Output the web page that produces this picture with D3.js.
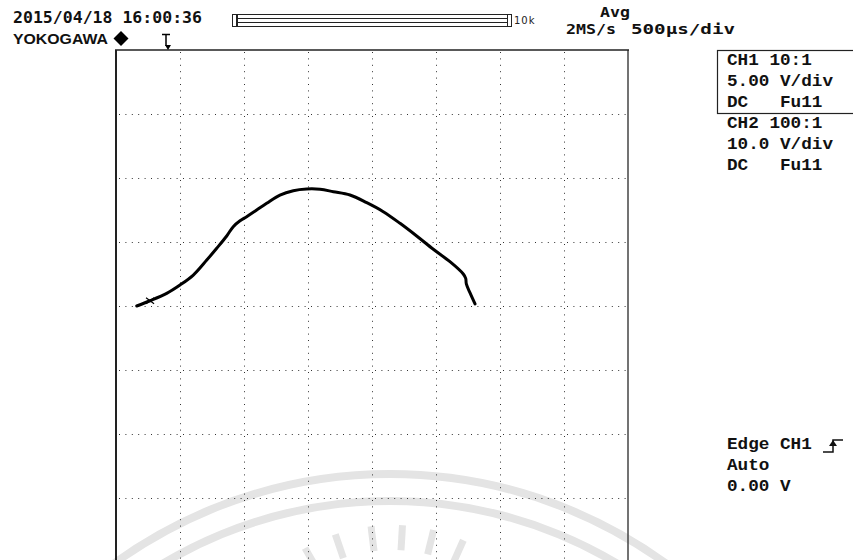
<!DOCTYPE html>
<html><head><meta charset="utf-8">
<script src="https://cdn.jsdelivr.net/npm/d3@7"></script>
<style>html,body{margin:0;padding:0;background:#fff;}svg{display:block;}text{white-space:pre;}</style>
</head><body>
<svg id="c" width="853" height="560"></svg>
<script>
// ---- data ----
const timeUs   = [-1838,-1734,-1604,-1500,-1396,-1291,-1213,-1135,-1084,-1031,-979,-901,-823,-719,-615,-510,-406,-302,-172,-41,88,219,349,479,609,713,732,737,766,805];
const ch1Volts = [0.0,0.41,0.99,1.64,2.42,3.59,4.51,5.47,6.20,6.66,6.98,7.5,8.02,8.67,9.01,9.14,9.12,8.93,8.67,8.07,7.37,6.46,5.47,4.43,3.46,2.5,2.16,1.72,1.02,0.16];
const timeGrid = [-1500,-1000,-500,0,500,1000,1500];
const voltGrid = [15,10,5,0,-5,-10,-15];
const headerDate = "2015/04/18 16:00:36";
const brand = "YOKOGAWA";
const memLabel = "10k";
const acqMode = "Avg";
const sampleRate = "2MS/s";
const timebase = "500µs/div";
const ch1Info = ["CH1 10:1","5.00 V/div","DC   Fu11"];
const ch2Info = ["CH2 100:1","10.0 V/div","DC   Fu11"];
const trigInfo = ["Edge CH1","Auto","0.00 V"];

const svg = d3.select("#c");
const x = d3.scaleLinear().domain([-2000,2000]).range([116,628]);
const y = d3.scaleLinear().domain([-20,20]).range([562,50]);

// watermark (faint logo arcs)
const wm = svg.append("g").attr("fill","none").attr("stroke","#e4e4e4");
const wcx = 390, wcy = 944;
[470, 443].forEach(r => {
  wm.append("path").attr("stroke-width",8)
    .attr("d", d3.arc()({innerRadius:r, outerRadius:r, startAngle:-Math.PI*0.24, endAngle:Math.PI*0.24}))
    .attr("transform",`translate(${wcx},${wcy})`);
});
const rayC = [392, 700];
[-0.52,-0.33,-0.12,0.06,0.24,0.42].forEach(a => {
  const r1 = 150, r2 = 175;
  wm.append("line").attr("stroke-width",7)
    .attr("x1", rayC[0]+Math.sin(a)*r1).attr("y1", rayC[1]-Math.cos(a)*r1)
    .attr("x2", rayC[0]+Math.sin(a)*r2).attr("y2", rayC[1]-Math.cos(a)*r2);
});

// grid
const g = svg.append("g");
g.selectAll("line.v").data(timeGrid).join("line")
  .attr("x1",d=>x(d)+0.5).attr("x2",d=>x(d)+0.5).attr("y1",y(20)+2).attr("y2",560)
  .attr("stroke","#333").attr("stroke-width",1).attr("stroke-dasharray","1,5.4");
g.selectAll("line.h").data(voltGrid).join("line")
  .attr("y1",d=>y(d)+0.5).attr("y2",d=>y(d)+0.5).attr("x1",x(-2000)+3).attr("x2",x(2000)-2)
  .attr("stroke","#333").attr("stroke-width",1).attr("stroke-dasharray","1,5.4");
// borders
g.append("line").attr("x1",x(-2000)).attr("x2",x(-2000)).attr("y1",y(20)).attr("y2",560).attr("stroke","#222").attr("stroke-width",2);
g.append("line").attr("x1",x(2000)).attr("x2",x(2000)).attr("y1",y(20)).attr("y2",560).attr("stroke","#444").attr("stroke-width",1.5);
g.append("line").attr("x1",x(-2000)-1).attr("x2",x(2000)+1).attr("y1",y(20)).attr("y2",y(20)).attr("stroke","#222").attr("stroke-width",1.5);

// trace
const pts = timeUs.map((t,i)=>[t,ch1Volts[i]]);
svg.append("path").datum(pts)
  .attr("d", d3.line().x(d=>x(d[0])).y(d=>y(d[1])).curve(d3.curveCatmullRom.alpha(0.5)))
  .attr("fill","none").attr("stroke","#000").attr("stroke-width",3).attr("stroke-linejoin","round").attr("stroke-linecap","round");
// small noise burst near the start of the trace
const p0 = pts[1];
svg.append("path").attr("d",`M${x(p0[0])-4},${y(p0[1])-3} L${x(p0[0])+4},${y(p0[1])+3} M${x(p0[0])-4},${y(p0[1])+3} L${x(p0[0])+4},${y(p0[1])-3}`)
  .attr("stroke","#000").attr("stroke-width",1.2);

// header
const mono = "'DejaVu Sans Mono', monospace";
const lmono = "'Liberation Mono', 'Courier New', monospace";
svg.append("text").attr("x",13).attr("y",23).text(headerDate)
  .attr("font-family",mono).attr("font-weight","bold").attr("font-size",16)
  .attr("textLength",189).attr("lengthAdjust","spacingAndGlyphs").attr("fill","#111");
svg.append("text").attr("x",13).attr("y",44).text(brand)
  .attr("font-family","'Liberation Sans', Arial, sans-serif").attr("font-weight","bold").attr("font-size",14.5)
  .attr("textLength",95).attr("lengthAdjust","spacingAndGlyphs").attr("fill","#111");
// diamond
svg.append("path").attr("d","M121,31 L128.5,38.5 L121,46 L113.5,38.5 Z").attr("fill","#000");
// trigger position marker
svg.append("path").attr("d","M162,34.5 H170 M166,34.5 V46").attr("stroke","#000").attr("stroke-width",1.5).attr("fill","none");
svg.append("path").attr("d","M165,45 L171,45 L168,50 Z").attr("fill","#000");

// memory bar
svg.append("rect").attr("x",232.5).attr("y",14.5).attr("width",4).attr("height",12).attr("fill","none").attr("stroke","#222");
svg.append("rect").attr("x",237.5).attr("y",14.5).attr("width",270).attr("height",12).attr("fill","none").attr("stroke","#222");
[18.5,22.5].forEach(v=>svg.append("line").attr("x1",237.5).attr("x2",507.5).attr("y1",v).attr("y2",v).attr("stroke","#222"));
svg.append("rect").attr("x",507.5).attr("y",14.5).attr("width",4).attr("height",12).attr("fill","none").attr("stroke","#222");
svg.append("text").attr("x",514).attr("y",24).text(memLabel)
  .attr("font-family","'DejaVu Sans', sans-serif").attr("font-size",10).attr("fill","#222").attr("letter-spacing",1);

svg.append("text").attr("x",600).attr("y",17).text(acqMode)
  .attr("font-family",mono).attr("font-weight","bold").attr("font-size",14)
  .attr("textLength",30).attr("lengthAdjust","spacingAndGlyphs").attr("fill","#111");
svg.append("text").attr("x",566).attr("y",34).text(sampleRate)
  .attr("font-family",mono).attr("font-weight","bold").attr("font-size",14)
  .attr("textLength",50).attr("lengthAdjust","spacingAndGlyphs").attr("fill","#111");
svg.append("text").attr("x",631).attr("y",34).text(timebase)
  .attr("font-family",mono).attr("font-weight","bold").attr("font-size",14)
  .attr("textLength",104).attr("lengthAdjust","spacingAndGlyphs").attr("fill","#111");

// right panel
svg.append("rect").attr("x",717.5).attr("y",50.5).attr("width",140).attr("height",63).attr("fill","none").attr("stroke","#222").attr("stroke-width",1.2);
function block(lines, y0){
  lines.forEach((s,i)=>{
    svg.append("text").attr("x",727).attr("y",y0+i*21).text(s)
      .attr("font-family",lmono).attr("font-weight","bold").attr("font-size",17)
      .attr("textLength",s.length*10.6).attr("lengthAdjust","spacingAndGlyphs").attr("fill","#111");
  });
}
block(ch1Info, 65);
block(ch2Info, 128);
block(trigInfo, 449);
// rising edge icon
svg.append("path").attr("d","M823,452 H833 V440 H843").attr("stroke","#111").attr("stroke-width",1.5).attr("fill","none");
svg.append("path").attr("d","M829,446 L833,440 L837,446 Z").attr("fill","#111");
</script>
</body></html>
